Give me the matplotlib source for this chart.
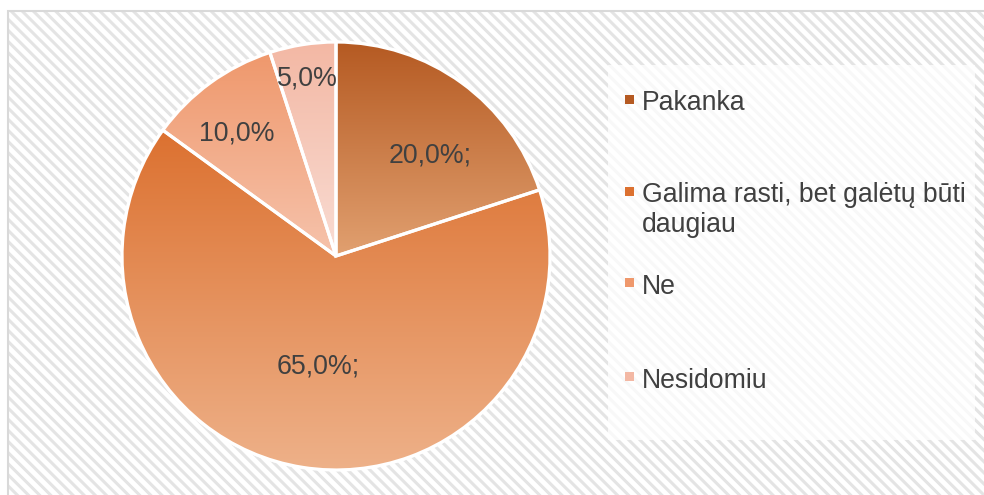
import numpy as np
import matplotlib
matplotlib.use("Agg")
import matplotlib.pyplot as plt
from matplotlib.patches import Rectangle, Wedge
from matplotlib.colors import LinearSegmentedColormap

categories = ["Pakanka", "Galima rasti, bet galėtų būti daugiau", "Ne", "Nesidomiu"]
values = [20.0, 65.0, 10.0, 5.0]
value_labels = ["20,0%;", "65,0%;", "10,0%", "5,0%"]
legend_labels = ["Pakanka", "Galima rasti, bet galėtų būti\ndaugiau", "Ne", "Nesidomiu"]

top_colors = ["#B55A22", "#DC7130", "#EF986C", "#F3B8A4"]
bottom_colors = ["#E1A070", "#EEB189", "#F6C3AC", "#F9DCD3"]
label_dist = [0.645, 0.521, 0.734, 0.84]
label_angle_shift = [-7.0, 0.0, 3.0, 0.0]

plt.rcParams['font.family'] = ['Liberation Sans', 'DejaVu Sans']
plt.rcParams['hatch.linewidth'] = 2.2

W, H = 984, 495
fig = plt.figure(figsize=(W / 100, H / 100), dpi=100)
fig.patch.set_facecolor("white")

def fx(px):
    return px / W

def fy(py):
    return 1 - py / H

# hatched chart area background
bg = Rectangle((fx(8), fy(H + 5)), fx(W + 5 - 8), (H + 5 - 11) / H,
               transform=fig.transFigure, facecolor="#FFFFFF",
               edgecolor="#E4E4E4", hatch="\\\\\\", linewidth=0, zorder=0)
fig.patches.append(bg)
border = Rectangle((fx(8), fy(H + 5)), fx(W + 5 - 8), (H + 5 - 11) / H,
                   transform=fig.transFigure, facecolor="none",
                   edgecolor="#D9D9D9", linewidth=1.5, zorder=1)
fig.patches.append(border)

# legend background box
lg = Rectangle((fx(608), fy(440)), fx(975 - 608), (440 - 65) / H,
               transform=fig.transFigure, facecolor="white", alpha=0.75,
               edgecolor="none", zorder=2)
fig.patches.append(lg)

# pie axes
cx, cy, r = 336, 256, 214
ax = fig.add_axes([fx(cx - r), fy(cy + r), 2 * r / W, 2 * r / H])
ax.set_zorder(3)
ax.patch.set_alpha(0)
wedges, _ = ax.pie(values, startangle=90, counterclock=False, radius=1,
                   colors=top_colors,
                   wedgeprops=dict(edgecolor="white", linewidth=2.3))
ax.axis("off")

grad = np.linspace(0, 1, 256).reshape(-1, 1)
for i, w in enumerate(wedges):
    ext = w.get_path().get_extents(w.get_patch_transform())
    cmap = LinearSegmentedColormap.from_list(f"g{i}", [top_colors[i], bottom_colors[i]])
    im = ax.imshow(grad, cmap=cmap, aspect="auto",
                   extent=[ext.x0, ext.x1, ext.y0, ext.y1], origin="upper",
                   zorder=1.5)
    im.set_clip_path(w)
    w.set_zorder(1)
    ax.add_patch(Wedge(w.center, w.r, w.theta1, w.theta2,
                       facecolor="none", edgecolor="white",
                       linewidth=2.3, zorder=2))
    ang = np.deg2rad((w.theta1 + w.theta2) / 2 + label_angle_shift[i])
    d = label_dist[i]
    ax.text(d * np.cos(ang), d * np.sin(ang), value_labels[i], ha="center",
            va="center", fontsize=19.3, color="#404040", zorder=3)

ax.set_xlim(-1.0, 1.0)
ax.set_ylim(-1.0, 1.0)
ax.set_aspect("equal")

# legend
legend_y = [101, 193, 284, 378]
for i, lab in enumerate(legend_labels):
    y = legend_y[i]
    fig.patches.append(Rectangle((fx(625), fy(y + 3)), 9 / W, 9 / H,
                                 transform=fig.transFigure,
                                 facecolor=top_colors[i], edgecolor="none",
                                 zorder=4))
    fig.text(fx(642), fy(y - 10.5), lab, ha="left", va="top", fontsize=19.2,
             color="#404040", linespacing=1.15, zorder=5)

fig.savefig("out.png", dpi=100)
